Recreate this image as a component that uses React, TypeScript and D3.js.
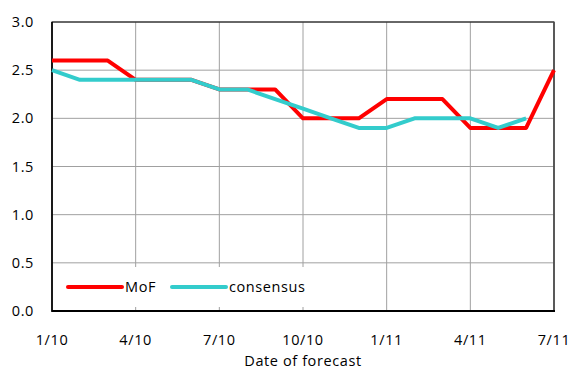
import React from "react";
import * as d3 from "d3";

const tickMonths: number[] = [0, 3, 6, 9, 12, 15, 18];
const tickLabels: string[] = ["1/10", "4/10", "7/10", "10/10", "1/11", "4/11", "7/11"];
const yTicks: number[] = [0, 0.5, 1.0, 1.5, 2.0, 2.5, 3.0];
const mofValues: number[] = [2.6, 2.6, 2.6, 2.4, 2.4, 2.4, 2.3, 2.3, 2.3, 2.0, 2.0, 2.0, 2.2, 2.2, 2.2, 1.9, 1.9, 1.9, 2.5];
const consensusValues: number[] = [2.5, 2.4, 2.4, 2.4, 2.4, 2.4, 2.3, 2.3, 2.2, 2.1, 2.0, 1.9, 1.9, 2.0, 2.0, 2.0, 1.9, 2.0];
const seriesNames: string[] = ["MoF", "consensus"];

const W = 572, H = 369;
const L = 52, R = 554, T = 22, B = 311;
const FONT = "'Open Sans', sans-serif";
const FS = 14.5;
const LS = 0.6;

export default function App() {
  const x = d3.scaleLinear().domain([0, 18]).range([L, R]);
  const y = d3.scaleLinear().domain([0, 3]).range([B, T]);
  const line = d3.line<number>().x((_, i) => x(i)).y((d) => y(d)).curve(d3.curveLinear);

  return (
    <svg width={W} height={H} style={{ position: "absolute", left: 0, top: 0, background: "#fff" }}>
      <rect x={0} y={0} width={W} height={H} fill="#fff" />
      {yTicks.map((t) => (
        <line key={"gy" + t} x1={L} x2={R} y1={y(t)} y2={y(t)} stroke="#a0a0a0" strokeWidth={1} />
      ))}
      {tickMonths.map((m) => (
        <line key={"gx" + m} x1={x(m)} x2={x(m)} y1={T} y2={B} stroke="#a0a0a0" strokeWidth={1} />
      ))}
      <rect x={L} y={T} width={R - L} height={B - T} fill="none" stroke="#000" strokeWidth={1} />
      <line x1={R} x2={R} y1={T} y2={B} stroke="#555" strokeWidth={1.5} />
      {/* legend background */}
      <rect x={58} y={267} width={255} height={40} fill="#fff" />
      <line x1={L} x2={L} y1={T} y2={B + 1} stroke="#000" strokeWidth={1.5} />
      <line x1={L} x2={R + 1} y1={B} y2={B} stroke="#000" strokeWidth={2} />
      <path d={line(mofValues) || ""} fill="none" stroke="#ff0000" strokeWidth={4} strokeLinejoin="round" />
      <path d={line(consensusValues) || ""} fill="none" stroke="#33cccc" strokeWidth={4} strokeLinejoin="round" />
      {yTicks.map((t) => (
        <text key={"ty" + t} x={34} y={y(t)} dy="0.35em" textAnchor="end" fontFamily={FONT} fontSize={FS} letterSpacing={LS} fill="#000">
          {t.toFixed(1)}
        </text>
      ))}
      {tickMonths.map((m, i) => (
        <text key={"tx" + m} x={x(m)} y={345} textAnchor="middle" fontFamily={FONT} fontSize={FS} letterSpacing={LS} fill="#000">
          {tickLabels[i]}
        </text>
      ))}
      <text x={(L + R) / 2} y={366} textAnchor="middle" fontFamily={FONT} fontSize={FS} letterSpacing={LS} fill="#000">
        Date of forecast
      </text>
      {/* legend */}
      <line x1={68} x2={122} y1={287} y2={287} stroke="#ff0000" strokeWidth={4} strokeLinecap="round" />
      <text x={125} y={287} dy="0.35em" fontFamily={FONT} fontSize={FS} letterSpacing={LS} fill="#000">{seriesNames[0]}</text>
      <line x1={172} x2={226} y1={287} y2={287} stroke="#33cccc" strokeWidth={4} strokeLinecap="round" />
      <text x={229} y={287} dy="0.35em" fontFamily={FONT} fontSize={FS} letterSpacing={LS} fill="#000">{seriesNames[1]}</text>
    </svg>
  );
}
